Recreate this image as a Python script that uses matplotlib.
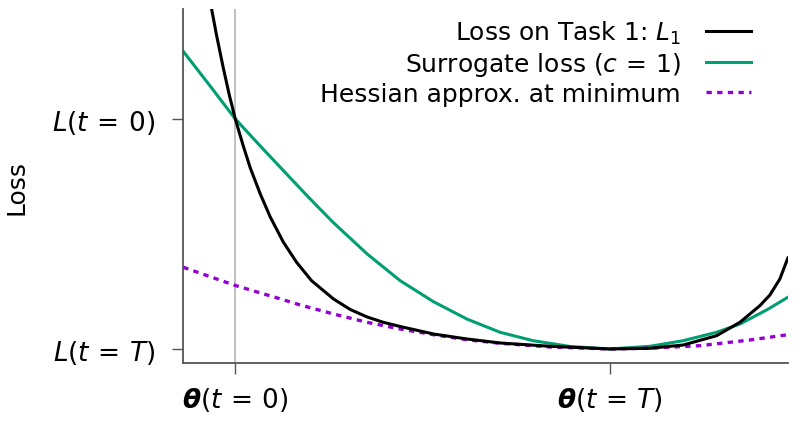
import matplotlib
matplotlib.use("Agg")
import matplotlib.pyplot as plt

plt.rcParams['mathtext.fontset'] = 'dejavusans'
plt.rcParams['font.family'] = ['DejaVu Sans']

# Task 1 loss L1 (theta in units where theta(t=0)=0, theta(t=T)=1; loss normalised L(T)=0, L(0)=1)
loss_x = [-0.0632, -0.0507, -0.0320, -0.0160, 0.0, 0.0213, 0.04, 0.0667, 0.0933, 0.128,
          0.1635, 0.2035, 0.2621, 0.3067, 0.352, 0.3947, 0.44, 0.5288, 0.6179, 0.7067,
          0.84, 1.0, 1.1067, 1.1955, 1.2845, 1.3467, 1.40, 1.4267, 1.4533, 1.4747]
loss_y = [1.4783, 1.3696, 1.2217, 1.1043, 1.0, 0.8826, 0.7870, 0.6739, 0.5739, 0.4652,
          0.3770, 0.2970, 0.2174, 0.1717, 0.1391, 0.1161, 0.0978, 0.0652, 0.0435, 0.0261,
          0.0117, 0.0, 0.0030, 0.0174, 0.0578, 0.1161, 0.1883, 0.2348, 0.3043, 0.3957]

# Surrogate loss (c = 1)
surr_x = [-0.1387, -0.0693, 0.0, 0.064, 0.128, 0.1947, 0.2613, 0.352, 0.44, 0.528,
          0.6179, 0.7067, 0.7947, 0.8933, 1.0, 1.1067, 1.1955, 1.2845, 1.3467, 1.4179,
          1.4747]
surr_y = [1.2935, 1.1478, 1.0, 0.8870, 0.7761, 0.6609, 0.55, 0.4130, 0.297, 0.2065,
          0.1304, 0.0726, 0.0361, 0.0109, 0.0, 0.0117, 0.0361, 0.0726, 0.1087, 0.1696,
          0.2248]

# Hessian approximation at minimum
hess_x = [-0.1387, 0.0, 0.1059, 0.1733, 0.2621, 0.3512, 0.44, 0.5288, 0.6179, 0.7067,
          0.84, 1.0, 1.1067, 1.24, 1.3733, 1.4747]
hess_y = [0.3552, 0.2761, 0.2248, 0.1913, 0.1522, 0.1161, 0.087, 0.0622, 0.0404, 0.0248,
          0.0087, 0.0, 0.0035, 0.0143, 0.0391, 0.0622]

x_ticks = [0, 1]
x_labels = [r'$\boldsymbol{\theta}(t\,=\,0)$', r'$\boldsymbol{\theta}(t\,=\,T)$']
y_ticks = [0, 1]
y_labels = [r'$L(t\,=\,T)$', r'$L(t\,=\,0)$']

fig = plt.figure(figsize=(8, 4.27), dpi=100)
ax = fig.add_axes([0.229, 0.1475, 0.756, 0.8291])

ax.axvline(0, color='#bbbbbb', lw=1.3, zorder=1)
ax.plot(loss_x, loss_y, color='black', lw=2.2, label=r'Loss on Task 1: $L_1$', zorder=3,
        solid_joinstyle='round')
ax.plot(surr_x, surr_y, color='#009E73', lw=2.2, label=r'Surrogate loss $(c\,=\,1)$', zorder=2,
        solid_joinstyle='round')
ax.plot(hess_x, hess_y, color='#9400D3', lw=2.4, ls=(0, (1.6, 1.6)),
        label='Hessian approx. at minimum', zorder=2)

ax.set_xlim(-0.139, 1.475)
ax.set_ylim(-0.061, 1.478)
ax.set_xticks(x_ticks)
ax.set_xticklabels(x_labels, fontsize=19)
ax.set_yticks(y_ticks)
ax.set_yticklabels(y_labels, fontsize=19)
ax.tick_params(axis='y', length=8, width=1, color='#555555', pad=12)
ax.tick_params(axis='x', length=8, width=1, color='#555555', pad=8)
for s in ['top', 'right']:
    ax.spines[s].set_visible(False)
for s in ['left', 'bottom']:
    ax.spines[s].set_color('#555555')
    ax.spines[s].set_linewidth(1.3)
ax.set_ylabel('Loss', fontsize=18)
ax.yaxis.set_label_coords(-0.256, 0.5)

leg = ax.legend(loc='upper right', frameon=False, markerfirst=False, fontsize=18,
                handlelength=1.8, labelspacing=0.15, handletextpad=1.0,
                borderaxespad=0.0, bbox_to_anchor=(0.955, 1.0))

fig.savefig('out.png', dpi=100)
